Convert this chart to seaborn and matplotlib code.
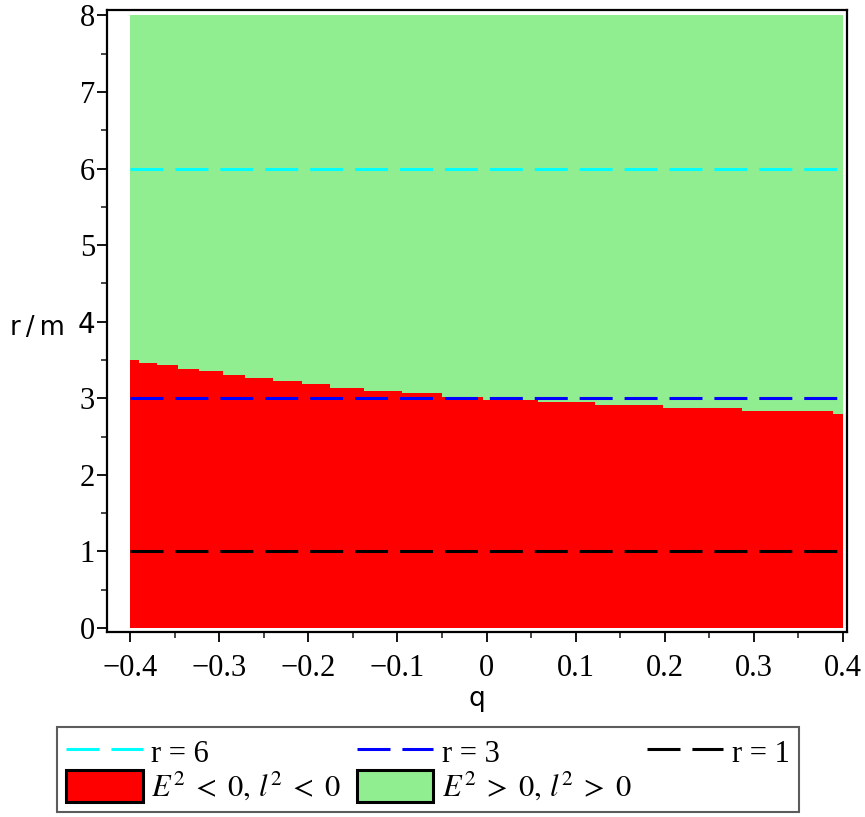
import numpy as np
import pandas as pd
import matplotlib
matplotlib.use("Agg")
import matplotlib.pyplot as plt
import seaborn as sns
from matplotlib.patches import Patch
from matplotlib.lines import Line2D
from matplotlib.ticker import MultipleLocator, FuncFormatter

# ---- data ----
q_steps = [-0.400, -0.390, -0.370, -0.346, -0.323, -0.296, -0.271, -0.240, -0.207,
           -0.176, -0.138, -0.095, -0.050, -0.004, 0.058, 0.122, 0.198, 0.287,
           0.389, 0.400]
r_boundary = [3.50, 3.46, 3.43, 3.38, 3.35, 3.31, 3.27, 3.22, 3.19,
              3.14, 3.10, 3.07, 3.02, 2.98, 2.95, 2.91, 2.87, 2.83,
              2.79, 2.79]
q_range = [-0.4, 0.4]
r_top = 8.0
ref_radii = [6, 3, 1]
ref_colors = ["#00FFFF", "#0000FF", "#000000"]
ref_labels = ["r = 6", "r = 3", "r = 1"]
region_labels = [r"$E^2\;<\;0,\,l^2\;<\;0$", r"$E^2\;>\;0,\,l^2\;>\;0$"]
region_colors = ["#FF0000", "#90EE90"]
xticks = [-0.4, -0.3, -0.2, -0.1, 0, 0.1, 0.2, 0.3, 0.4]
yticks = [0, 1, 2, 3, 4, 5, 6, 7, 8]

sns.set_theme(style="white")
plt.rcParams["font.family"] = ["Liberation Serif", "DejaVu Serif"]
plt.rcParams["mathtext.fontset"] = "stix"

SERIF = "Liberation Serif"
DASH = (0, (10.8, 3.9))

fig = plt.figure(figsize=(8.65, 8.17), dpi=100)
ax = fig.add_axes([107/865, 1-632/817, 740/865, 622/817])

boundary = pd.DataFrame({"q": q_steps, "r": r_boundary})
ax.fill_between(boundary["q"], 0, boundary["r"], step="post",
                color=region_colors[0], linewidth=0)
ax.fill_between(boundary["q"], boundary["r"], r_top, step="post",
                color=region_colors[1], linewidth=0)

for r, c in zip(ref_radii, ref_colors):
    df = pd.DataFrame({"q": q_range, "r": [r, r]})
    sns.lineplot(data=df, x="q", y="r", ax=ax, color=c, linewidth=2.2,
                 linestyle=DASH)

ax.set_xlim(-0.426, 0.4045)
ax.set_ylim(-0.052, 8.07)
ax.set_xticks(xticks)
ax.set_yticks(yticks)
ax.xaxis.set_minor_locator(MultipleLocator(0.05))
ax.yaxis.set_minor_locator(MultipleLocator(0.5))

def xfmt(v, p):
    if abs(v) < 1e-9:
        return "0"
    s = f"{v:.1f}"
    return s.replace("-", "\u2212")
ax.xaxis.set_major_formatter(FuncFormatter(xfmt))
ax.yaxis.set_major_formatter(FuncFormatter(lambda v, p: f"{int(round(v))}"))

ax.tick_params(axis="both", which="major", direction="out", length=7.2, width=1.3,
               labelsize=22, colors="black", bottom=True, left=True)
ax.tick_params(axis="both", which="minor", direction="out", length=4.3, width=1.2,
               bottom=True, left=True)
ax.tick_params(axis="x", which="major", pad=8.5)
ax.tick_params(axis="y", which="major", pad=1.5)

for sp in ax.spines.values():
    sp.set_color("black")
    sp.set_linewidth(1.6)

ax.set_xlabel("q", family="DejaVu Sans", fontsize=19, color="black", va="top")
ax.xaxis.set_label_coords(0.5, -0.0876)
ax.set_ylabel("r\u2009/\u2009m", family="DejaVu Sans", fontsize=18.5, rotation=0,
              color="black", ha="center", va="baseline")
ax.yaxis.set_label_coords(-0.0946, 0.4775)

fig.canvas.draw()
for lab in ax.get_xticklabels() + ax.get_yticklabels():
    lab.set_fontfamily(SERIF)
    lab.set_fontsize(22)
for lab in ax.get_yticklabels():
    if lab.get_text() == "4":
        lab.set_fontfamily("DejaVu Sans")
        lab.set_fontsize(20)

handles = [
    Line2D([], [], color=ref_colors[0], lw=2.2, linestyle=DASH),
    Patch(facecolor=region_colors[0], edgecolor="black", linewidth=2.2),
    Line2D([], [], color=ref_colors[1], lw=2.2, linestyle=DASH),
    Patch(facecolor=region_colors[1], edgecolor="black", linewidth=2.2),
    Line2D([], [], color=ref_colors[2], lw=2.2, linestyle=DASH),
]
labels = [ref_labels[0], region_labels[0], ref_labels[1], region_labels[1], ref_labels[2]]
leg = fig.legend(handles, labels, loc="upper left",
                 bbox_to_anchor=(57/865, 1-814/817, 742/865, 87/817),
                 mode="expand", ncol=3, fontsize=22, handlelength=2.5,
                 handleheight=1.22, handletextpad=0.28, labelspacing=0.02,
                 borderaxespad=0, borderpad=0.3, columnspacing=0.5,
                 frameon=True, fancybox=False)
leg.get_frame().set_edgecolor("#333333")
leg.get_frame().set_linewidth(1.5)
for t in leg.get_texts():
    t.set_color("black")

fig.savefig("out.png", dpi=100)
